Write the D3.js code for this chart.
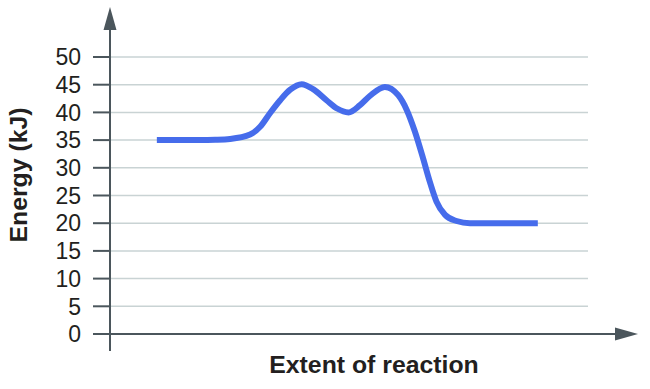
<!DOCTYPE html>
<html>
<head>
<meta charset="utf-8">
<script src="https://cdn.jsdelivr.net/npm/d3@7"></script>
<style>
    body { margin: 0; background: #fff; }
    svg { display: block; font-family: "Liberation Sans", Arial, sans-serif; }
    .tick-label { font-size: 23px; fill: #231f20; }
    .axis-title { font-size: 24.8px; font-weight: bold; fill: #231f20; }
</style>
</head>
<body>
<svg id="chart" width="650" height="389"></svg>
<script>
// Energy profile
var extent = [9.8, 18.8, 22.0, 25.1, 29.3, 31.4, 33.5, 35.6, 37.7, 40.1,
              42.5, 45.3, 47.5, 49.9, 52.3, 54.4, 57.5, 60.3, 62.1, 63.8,
              65.5, 66.9, 68.3, 70.1, 72.5, 75.3, 89.5];
var energy = [35, 35, 35.05, 35.2, 36.0, 37.4, 39.9, 42.2, 44.1, 45.1,
              44.2, 42.2, 40.7, 40.0, 41.3, 43.0, 44.6, 43.1, 40.4, 36.5,
              31.7, 27.5, 23.9, 21.5, 20.4, 20, 20];
var yTicks = [0, 5, 10, 15, 20, 25, 30, 35, 40, 45, 50];
var xTitle = 'Extent of reaction';
var yTitle = 'Energy (kJ)';

var axisColor = '#4b565c',
    gridColor = '#c9d3d4',
    lineColor = '#466ceb';

var svg = d3.select('#chart');

var x = d3.scaleLinear().domain([0, 100]).range([110, 588]);
var y = d3.scaleLinear().domain([0, 50]).range([334, 57]);

// Horizontal grid lines
svg.selectAll('.grid')
    .data(yTicks.filter(function(d) { return d > 0; }))
    .enter().append('line')
        .attr('class', 'grid')
        .attr('x1', x(0))
        .attr('x2', x(100))
        .attr('y1', function(d) { return y(d); })
        .attr('y2', function(d) { return y(d); })
        .style('stroke', gridColor)
        .style('stroke-width', 1.5);

// Tick marks and labels on the energy axis
svg.selectAll('.tick-mark')
    .data(yTicks)
    .enter().append('line')
        .attr('class', 'tick-mark')
        .attr('x1', x(0) - 17)
        .attr('x2', x(0))
        .attr('y1', function(d) { return y(d); })
        .attr('y2', function(d) { return y(d); })
        .style('stroke', axisColor)
        .style('stroke-width', 2);

svg.selectAll('.tick-label')
    .data(yTicks)
    .enter().append('text')
        .attr('class', 'tick-label')
        .attr('x', 81)
        .attr('y', function(d) { return y(d); })
        .attr('dy', '0.36em')
        .attr('text-anchor', 'end')
        .text(function(d) { return d; });

// Axis lines with arrow heads
svg.append('line')
    .attr('x1', x(0)).attr('x2', x(0))
    .attr('y1', 351).attr('y2', 28)
    .style('stroke', axisColor)
    .style('stroke-width', 2);
svg.append('path')
    .attr('d', 'M' + (x(0) - 6.5) + ',30L' + x(0) + ',7L' + (x(0) + 6.5) + ',30Z')
    .style('fill', axisColor);

svg.append('line')
    .attr('x1', x(0) - 17).attr('x2', 617)
    .attr('y1', y(0)).attr('y2', y(0))
    .style('stroke', axisColor)
    .style('stroke-width', 2);
svg.append('path')
    .attr('d', 'M615,' + (y(0) - 6.5) + 'L638,' + y(0) + 'L615,' + (y(0) + 6.5) + 'Z')
    .style('fill', axisColor);

// Reaction curve
var points = extent.map(function(d, i) { return [d, energy[i]]; });
var line = d3.line()
    .x(function(d) { return x(d[0]); })
    .y(function(d) { return y(d[1]); })
    .curve(d3.curveMonotoneX);

svg.append('path')
    .datum(points)
    .attr('d', line)
    .style('fill', 'none')
    .style('stroke', lineColor)
    .style('stroke-width', 6);

// Titles
svg.append('text')
    .attr('class', 'axis-title')
    .attr('x', 374)
    .attr('y', 373)
    .attr('text-anchor', 'middle')
    .text(xTitle);

svg.append('text')
    .attr('class', 'axis-title')
    .attr('transform', 'translate(27,175) rotate(-90)')
    .attr('text-anchor', 'middle')
    .text(yTitle);
</script>
</body>
</html>
